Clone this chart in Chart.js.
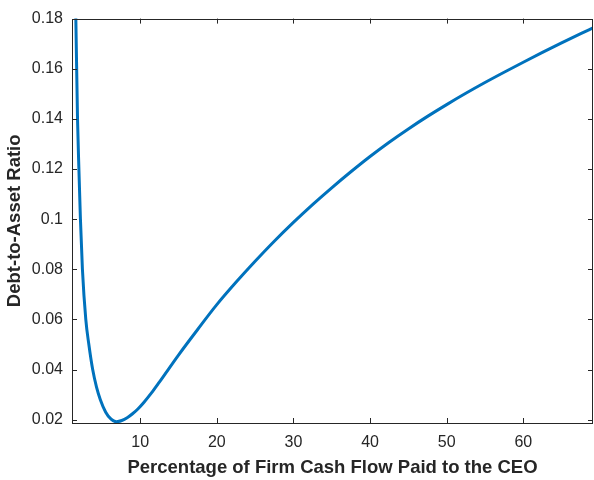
<!DOCTYPE html>
<html>
<head>
<meta charset="utf-8">
<script src="https://cdn.jsdelivr.net/npm/chart.js@4/dist/chart.umd.min.js"></script>
<style>
  html, body { margin: 0; padding: 0; background: #fff; }
  #wrap { width: 594px; height: 480px; }
</style>
</head>
<body>
<div id="wrap"><canvas id="chart" width="594" height="480"></canvas></div>
<script>
// values
const payPct = [1.45, 1.6, 1.82, 2.0, 2.2, 2.46, 2.9, 3.3, 3.8, 4.3, 4.8, 5.5, 6.2, 6.9, 7.6, 8.3, 9.0, 9.7,
  10.5, 11.5, 12.5, 15, 17.5, 20, 22.5, 25, 27.5, 30, 32.5, 35, 37.5, 40, 42.5, 45, 47.5,
  50, 52.5, 55, 57.5, 60, 62.5, 65, 67.5, 69.1];
const debtRatio = [0.2, 0.18, 0.14, 0.12, 0.10, 0.08, 0.06, 0.05, 0.04, 0.033, 0.028, 0.023, 0.0202, 0.0192, 0.0197, 0.0208, 0.0224, 0.0243,
  0.0270, 0.0308, 0.0350, 0.0458, 0.0560, 0.0659, 0.0748, 0.0832, 0.0912, 0.0987, 0.1058, 0.1125, 0.1189, 0.1250, 0.1307, 0.1360, 0.1410,
  0.1457, 0.1502, 0.1545, 0.1586, 0.1626, 0.1665, 0.1703, 0.1740, 0.1763];
const xTicks = [10, 20, 30, 40, 50, 60];
const yTicks = [0.02, 0.04, 0.06, 0.08, 0.1, 0.12, 0.14, 0.16, 0.18];

const AXIS = '#262626';
const FONT = '"Liberation Sans", Arial, Helvetica, sans-serif';

// matlab-style box with inward ticks on all four sides
const boxTicks = {
  id: 'boxTicks',
  afterDraw(chart) {
    const { ctx, chartArea: a, scales: { x, y } } = chart;
    const len = 5;
    ctx.save();
    ctx.strokeStyle = AXIS;
    ctx.lineWidth = 1;
    ctx.beginPath();
    x.ticks.forEach((t) => {
      const px = Math.round(x.getPixelForValue(t.value)) + 0.5;
      ctx.moveTo(px, a.bottom); ctx.lineTo(px, a.bottom - len);
      ctx.moveTo(px, a.top); ctx.lineTo(px, a.top + len);
    });
    y.ticks.forEach((t) => {
      const py = Math.round(y.getPixelForValue(t.value)) + 0.5;
      ctx.moveTo(a.left, py); ctx.lineTo(a.left + len, py);
      ctx.moveTo(a.right, py); ctx.lineTo(a.right - len, py);
    });
    ctx.stroke();
    ctx.strokeRect(Math.round(a.left) + 0.5, Math.round(a.top) + 0.5,
      Math.round(a.right - a.left) - 1, Math.round(a.bottom - a.top));
    ctx.restore();
  },
};

new Chart(document.getElementById('chart'), {
  type: 'line',
  data: {
    datasets: [{
      data: payPct.map((v, i) => ({ x: v, y: debtRatio[i] })),
      borderColor: '#0072BD',
      borderWidth: 3,
      pointRadius: 0,
      cubicInterpolationMode: 'monotone',
      fill: false,
    }],
  },
  options: {
    responsive: false,
    animation: false,
    layout: { padding: { top: 10, right: 1, left: 0, bottom: 0 } },
    plugins: { legend: { display: false }, tooltip: { enabled: false } },
    scales: {
      x: {
        type: 'linear',
        min: 1.1,
        max: 69.1,
        afterBuildTicks: (s) => { s.ticks = xTicks.map((v) => ({ value: v })); },
        afterFit: (s) => { s.height = 57; },
        grid: { display: false, drawTicks: false },
        border: { display: false },
        ticks: { color: AXIS, padding: 10.4, maxRotation: 0, font: { family: FONT, size: 16 } },
        title: {
          display: true,
          text: 'Percentage of Firm Cash Flow Paid to the CEO',
          color: AXIS,
          font: { family: FONT, size: 18.5, weight: 'bold' },
          padding: { top: 0, bottom: 0.9 },
        },
      },
      y: {
        type: 'linear',
        min: 0.0187,
        max: 0.18,
        afterBuildTicks: (s) => { s.ticks = yTicks.map((v) => ({ value: v })); },
        afterFit: (s) => { s.width = 72; },
        grid: { display: false, drawTicks: false },
        border: { display: false },
        ticks: {
          color: AXIS,
          padding: 9,
          font: { family: FONT, size: 16 },
          callback: (v) => String(+Number(v).toFixed(2)),
        },
        title: {
          display: true,
          text: 'Debt-to-Asset Ratio',
          color: AXIS,
          font: { family: FONT, size: 18.5, weight: 'bold' },
          padding: { top: 3.9, bottom: 0 },
        },
      },
    },
  },
  plugins: [boxTicks],
});
</script>
</body>
</html>
